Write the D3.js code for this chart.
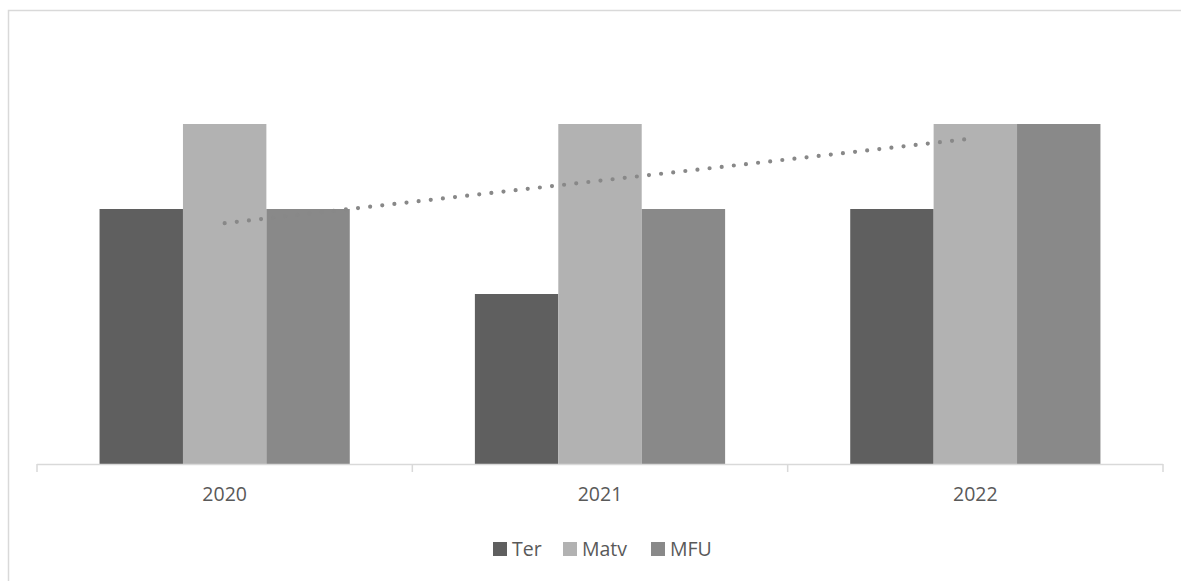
<!DOCTYPE html>
<html>
<head>
<meta charset="utf-8">
<script src="https://cdn.jsdelivr.net/npm/d3@7"></script>
<style>
  body { margin: 0; background: #fff; }
  svg { display: block; font-family: "Open Sans", sans-serif; }
</style>
</head>
<body>
<div class="container"></div>
<script>
var years = ['2020', '2021', '2022'];
var seriesNames = ['Ter', 'Matv', 'MFU'];
var ter = [3, 2, 3];
var matv = [4, 4, 4];
var mfu = [3, 3, 4];
var seriesColors = ['#5f5f5f', '#b2b2b2', '#898989'];

var width = 1181, height = 581;
var svg = d3.select('.container').append('svg').attr('width', width).attr('height', height);

// chart frame
svg.append('rect').attr('x', 8.5).attr('y', 10.5).attr('width', 1200).attr('height', 600)
	.attr('fill', 'none').attr('stroke', '#d9d9d9').attr('stroke-width', 1.5);

var plotLeft = 37, plotRight = 1163, plotTop = 39, plotBottom = 464;

var x = d3.scaleBand().domain(years).range([plotLeft, plotRight]).paddingInner(0).paddingOuter(0);
var inner = d3.scaleBand().domain(seriesNames).range([0, x.bandwidth()]).paddingInner(0).paddingOuter(0.75);
var y = d3.scaleLinear().domain([0, 5]).range([plotBottom, plotTop]);

var values = [ter, matv, mfu];
var data = [];
years.forEach(function(yr, i){
	seriesNames.forEach(function(s, j){
		data.push({ year: yr, series: s, value: values[j][i], color: seriesColors[j] });
	});
});

svg.append('g').selectAll('rect')
	.data(data)
	.enter()
	.append('rect')
	.attr('x', function(d){ return x(d.year) + inner(d.series); })
	.attr('y', function(d){ return y(d.value); })
	.attr('width', inner.bandwidth())
	.attr('height', function(d){ return plotBottom - y(d.value); })
	.attr('fill', function(d){ return d.color; });

// category axis
var axis = svg.append('g').attr('transform', 'translate(0,' + plotBottom + ')')
	.call(d3.axisBottom(x).tickSize(0).tickPadding(23));
axis.select('.domain').remove();
axis.selectAll('text').attr('font-size', 19.5).attr('fill', '#595959').attr('font-family', '"Open Sans", sans-serif');
axis.append('line').attr('x1', plotLeft).attr('x2', plotRight).attr('y1', 0.5).attr('y2', 0.5)
	.attr('stroke', '#d9d9d9').attr('stroke-width', 1.5);
var edges = years.map(function(d){ return x(d); }).concat([plotRight]);
axis.selectAll('.edge').data(edges).enter().append('line')
	.attr('x1', function(d){ return d; }).attr('x2', function(d){ return d; })
	.attr('y1', 0).attr('y2', 8).attr('stroke', '#d9d9d9').attr('stroke-width', 1.5);

// linear trendline of MFU
var n = mfu.length;
var xs = d3.range(1, n + 1);
var mx = d3.mean(xs), my = d3.mean(mfu);
var slope = d3.sum(xs, function(v, i){ return (v - mx) * (mfu[i] - my); }) / d3.sum(xs, function(v){ return (v - mx) * (v - mx); });
var icpt = my - slope * mx;
var trend = years.map(function(yr, i){ return { x: x(yr) + x.bandwidth() / 2, y: y(icpt + slope * (i + 1)) }; });
svg.append('path')
	.attr('d', d3.line().x(function(d){ return d.x; }).y(function(d){ return d.y; })(trend))
	.attr('fill', 'none').attr('stroke', '#888888').attr('stroke-width', 4.2)
	.attr('stroke-linecap', 'round').attr('stroke-dasharray', '0 12.2');

// legend
var legendPos = [493, 563, 651];
var legend = svg.append('g').selectAll('g').data(seriesNames).enter().append('g')
	.attr('transform', function(d, i){ return 'translate(' + legendPos[i] + ',542)'; });
legend.append('rect').attr('width', 14).attr('height', 14)
	.attr('fill', function(d, i){ return seriesColors[i]; });
legend.append('text').attr('x', 19).attr('y', 14).attr('font-size', 19.5).attr('fill', '#595959')
	.text(function(d){ return d; });
</script>
</body>
</html>
